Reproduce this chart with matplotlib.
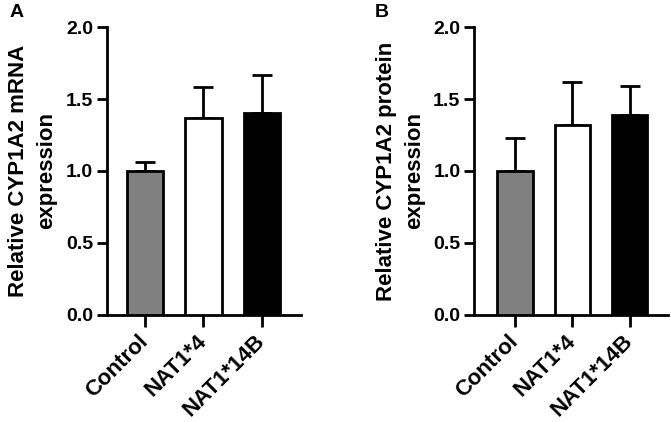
import matplotlib.pyplot as plt

plt.rcParams['font.family'] = ['Liberation Sans', 'DejaVu Sans']
plt.rcParams['font.weight'] = 'bold'

groups = ['Control', 'NAT1*4', 'NAT1*14B']
colors = ['#808080', 'white', 'black']

mrna_mean = [1.0, 1.37, 1.40]
mrna_err = [0.06, 0.21, 0.27]

protein_mean = [1.0, 1.32, 1.39]
protein_err = [0.23, 0.30, 0.20]

fig = plt.figure(figsize=(6.71, 4.22), dpi=100)
axA = fig.add_axes([0.1595, 0.2536, 0.289, 0.6824])
axB = fig.add_axes([0.7069, 0.2536, 0.2886, 0.6824])


def draw(ax, means, errs, ylabel, xlim):
    x = range(len(groups))
    ax.bar(x, means, width=0.62, color=colors, edgecolor='black', linewidth=2, zorder=3)
    ax.errorbar(x, means, yerr=[[0] * len(errs), errs], fmt='none', ecolor='black',
                elinewidth=2, capsize=7.5, capthick=2, zorder=2)
    ax.set_ylim(0, 2.0)
    ax.set_xlim(*xlim)
    ax.set_yticks([0, 0.5, 1.0, 1.5, 2.0])
    ax.set_yticklabels(['0.0', '0.5', '1.0', '1.5', '2.0'], fontsize=14, fontweight='bold')
    ax.set_xticks(list(x))
    ax.set_xticklabels(groups, rotation=45, ha='right', va='center', rotation_mode='anchor',
                       fontsize=16, fontweight='bold')
    ax.spines['top'].set_visible(False)
    ax.spines['right'].set_visible(False)
    ax.spines['left'].set_linewidth(2)
    ax.spines['bottom'].set_linewidth(2)
    ax.tick_params(axis='y', width=2, length=7, direction='out', pad=3)
    ax.tick_params(axis='x', width=2, length=8.5, direction='out', pad=8)
    ax.set_ylabel(ylabel, fontsize=16, fontweight='bold', linespacing=1.45, labelpad=6)


draw(axA, mrna_mean, mrna_err, 'Relative CYP1A2 mRNA\nexpression', (-0.65, 2.67))
draw(axB, protein_mean, protein_err, 'Relative CYP1A2 protein\nexpression', (-0.71, 2.67))

fig.text(0.014, 0.99, 'A', fontsize=14, fontweight='bold', va='top')
fig.text(0.558, 0.99, 'B', fontsize=14, fontweight='bold', va='top')

fig.savefig('out.png', dpi=100)
